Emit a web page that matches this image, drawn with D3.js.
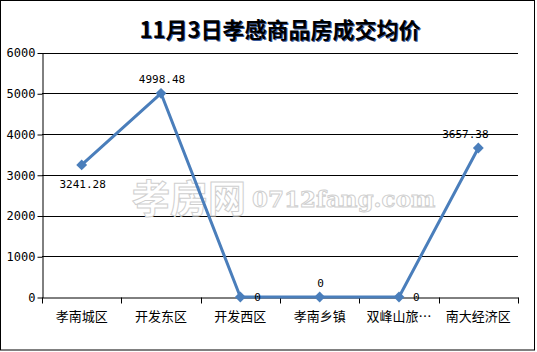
<!DOCTYPE html>
<html>
<head>
<meta charset="utf-8">
<script src="https://cdn.jsdelivr.net/npm/d3@7"></script>
<style>
  body { margin: 0; background: #fff; }
  svg text { font-family: "Noto Sans CJK SC", sans-serif; }
  .num { font-family: "DejaVu Sans Mono", monospace; font-size: 11px; }
</style>
</head>
<body>
<div id="svg-container"></div>
<script>
// data
const categories = ["孝南城区", "开发东区", "开发西区", "孝南乡镇", "双峰山旅…", "南大经济区"];
const prices = [3241.28, 4998.48, 0, 0, 0, 3657.38];
const yTicks = [0, 1000, 2000, 3000, 4000, 5000, 6000];
// where each data label sits relative to its point
const labelPos = ["below", "above", "right", "above", "right", "above"];

const width = 537, height = 352;
const margin = { top: 52.5, right: 19, bottom: 55, left: 42 };

const svg = d3.select("#svg-container").append("svg")
  .attr("width", width).attr("height", height);

// frame
svg.append("rect")
  .attr("x", 0.5).attr("y", 0.5)
  .attr("width", width - 3).attr("height", height - 2.5)
  .attr("fill", "#fff").attr("stroke", "#000");

// scales
const xScale = d3.scaleBand().domain(categories)
  .range([margin.left, width - margin.right]);
const xPoint = d => xScale(d) + xScale.bandwidth() / 2;
const yScale = d3.scaleLinear().domain([0, 6000])
  .range([height - margin.bottom, margin.top]);

// title
svg.append("text")
  .attr("x", 280).attr("y", 38)
  .attr("text-anchor", "middle")
  .style("font-size", "22px").style("font-weight", "bold")
  .style("fill", "#000")
  .style("text-shadow", "1px 1px 0 #3a5a9a")
  .text("11月3日孝感商品房成交均价");

// gridlines
svg.append("g").selectAll("line")
  .data(yTicks.filter(d => d > 0))
  .join("line")
  .attr("x1", margin.left).attr("x2", width - margin.right)
  .attr("y1", d => Math.round(yScale(d)) + 0.5)
  .attr("y2", d => Math.round(yScale(d)) + 0.5)
  .attr("stroke", "#000");

// watermark
const wm = svg.append("g").attr("fill", "#fff").attr("stroke", "#cfcfcf").attr("stroke-width", 1);
wm.append("text").attr("x", 132).attr("y", 212)
  .style("font-size", "38px").style("font-weight", "bold")
  .text("孝房网");
wm.append("text").attr("x", 252).attr("y", 207)
  .style("font-family", "'DejaVu Serif', serif")
  .style("font-size", "23px").style("font-weight", "bold")
  .text("0712fang.com");

// axes
const yAxis = d3.axisLeft(yScale).tickValues(yTicks).tickSize(5).tickSizeOuter(0)
  .tickFormat(d3.format("d"));
svg.append("g")
  .attr("transform", `translate(${margin.left + 0.5},0.5)`)
  .call(yAxis)
  .call(g => g.selectAll("text").attr("class", "num").style("font-size", "12px").attr("x", -7))
  .call(g => g.select(".domain").attr("stroke", "#000"));

const xAxis = d3.axisBottom(xScale).tickSize(0).tickSizeOuter(0);
const xg = svg.append("g")
  .attr("transform", `translate(0,${Math.round(yScale(0)) + 0.5})`)
  .call(xAxis);
xg.select(".domain").attr("stroke", "#000");
xg.selectAll("text").attr("dy", "1.6em").style("font-size", "13px").attr("fill", "#000");
// category boundary ticks
xg.selectAll(".bound")
  .data(categories.concat([null]))
  .join("line")
  .attr("x1", (d, i) => Math.round(margin.left + i * xScale.bandwidth()) + 0.5)
  .attr("x2", (d, i) => Math.round(margin.left + i * xScale.bandwidth()) + 0.5)
  .attr("y1", 0).attr("y2", 6)
  .attr("stroke", "#000");

// line
const line = d3.line()
  .x((d, i) => xPoint(categories[i]))
  .y(d => yScale(d));
svg.append("path")
  .datum(prices)
  .attr("d", line)
  .attr("fill", "none")
  .attr("stroke", "#4a7ebb")
  .attr("stroke-width", 3)
  .attr("stroke-linejoin", "round");

// markers
svg.append("g").selectAll("path")
  .data(prices)
  .join("path")
  .attr("d", d3.symbol().type(d3.symbolDiamond2).size(75))
  .attr("transform", (d, i) => `translate(${xPoint(categories[i])},${yScale(d)})`)
  .attr("fill", "#4a7ebb");

// data labels
const fmt = d => d === 0 ? "0" : d3.format(".2f")(d);
svg.append("g").selectAll("text")
  .data(prices)
  .join("text")
  .attr("class", "num")
  .attr("x", (d, i) => {
    const x = xPoint(categories[i]);
    if (labelPos[i] === "right") return x + 14;
    if (i === prices.length - 1) return x - 13;
    return x + 1;
  })
  .attr("y", (d, i) => {
    const y = yScale(d);
    if (labelPos[i] === "below") return y + 23;
    if (labelPos[i] === "above") return y - 10;
    return y + 4;
  })
  .attr("text-anchor", (d, i) => labelPos[i] === "right" ? "start" : "middle")
  .text(fmt);
</script>
</body>
</html>
